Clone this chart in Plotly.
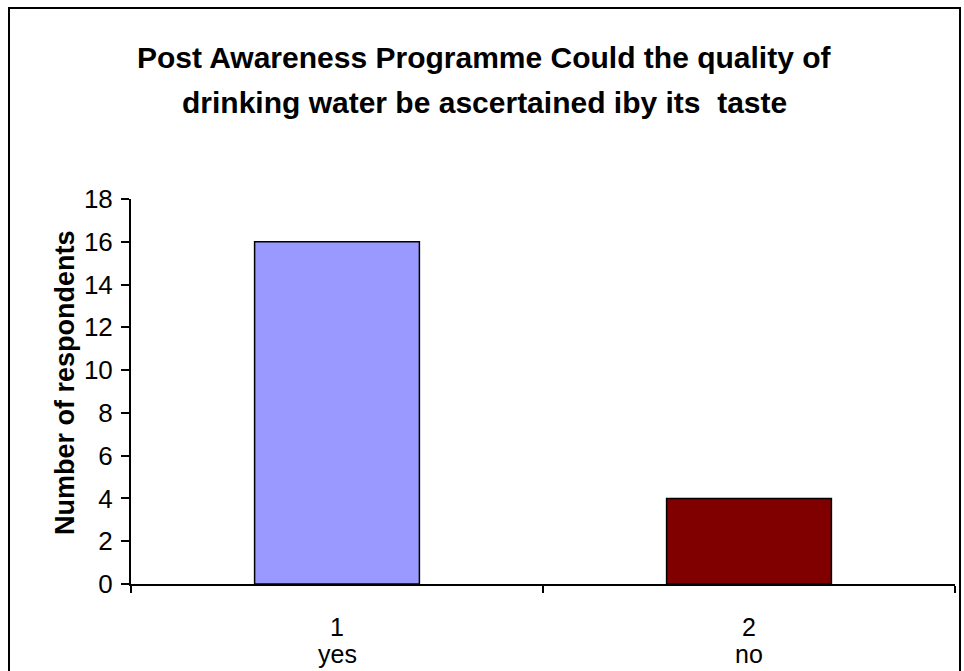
import plotly.graph_objects as go

categories = ["1", "2"]
sub_labels = ["yes", "no"]
values = [16, 4]
colors = ["#9999FF", "#800000"]
title_lines = ["Post Awareness Programme Could the quality of",
               "drinking water be ascertained iby its&nbsp; taste"]
y_title = "Number of respondents"
y_ticks = [0, 2, 4, 6, 8, 10, 12, 14, 16, 18]

FONT = "Liberation Sans, Arial, sans-serif"
W, H = 964, 671
L, R, T, B = 131, 9, 199, 87
PW, PH = W - L - R, H - T - B


def px_x(p):
    return (p - L) / PW


def px_y(p):
    return (H - B - p) / PH


fig = go.Figure(go.Bar(
    x=categories, y=values,
    marker=dict(color=colors, line=dict(color="black", width=1.5)),
))

fig.update_layout(
    width=W, height=H, autosize=False,
    margin=dict(l=L, r=R, t=T, b=B),
    plot_bgcolor="white", paper_bgcolor="white",
    bargap=0.6, showlegend=False,
    font=dict(family=FONT, color="black", size=25),
    xaxis=dict(type="category", tickson="boundaries", ticks="outside", ticklen=7,
               tickwidth=1.5, tickcolor="black", showline=True, linecolor="black",
               linewidth=2, showgrid=False, tickfont=dict(size=25), zeroline=False,
               ticklabelstandoff=20,
               range=[-0.5, len(categories) - 0.5]),
    yaxis=dict(range=[0, 18], tickvals=y_ticks, ticks="outside", ticklen=8,
               tickwidth=1.5, tickcolor="black", showline=True, linecolor="black",
               linewidth=2, showgrid=False, zeroline=False, tickfont=dict(size=26),
               ticklabelstandoff=3),
)

for i, s in enumerate(sub_labels):
    fig.add_annotation(text=s, x=i, xref="x", yref="paper", y=px_y(654),
                       showarrow=False, font=dict(size=25, family=FONT),
                       xanchor="center", yanchor="middle")

fig.add_annotation(text="<b>" + y_title + "</b>", xref="paper", yref="paper",
                   x=px_x(65), y=px_y(383), textangle=-90, showarrow=False,
                   font=dict(size=27, family=FONT), xanchor="center", yanchor="middle")

for line, yc in zip(title_lines, [57, 102]):
    fig.add_annotation(text="<b>" + line + "</b>", xref="paper", yref="paper",
                       x=px_x(484), y=px_y(yc), showarrow=False,
                       font=dict(size=30, family=FONT), xanchor="center", yanchor="middle")

fig.add_shape(type="rect", xref="paper", yref="paper",
              x0=px_x(9), x1=px_x(960), y0=px_y(690), y1=px_y(8),
              line=dict(color="black", width=2), fillcolor="rgba(0,0,0,0)", layer="below")

fig.write_html("out.html", config={"displayModeBar": False},
               post_script="document.body.style.margin='0';")
